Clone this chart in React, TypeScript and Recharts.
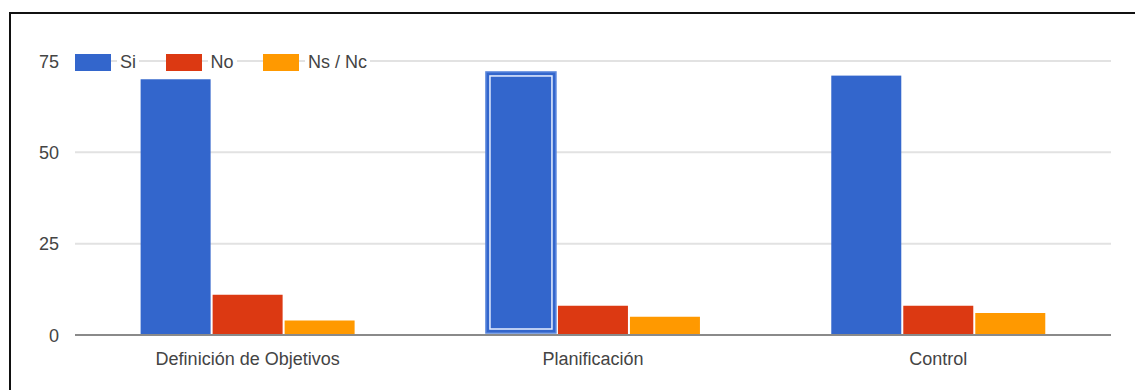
import React from 'react'
import { BarChart, Bar, XAxis, YAxis, CartesianGrid } from 'recharts'

const categories = ['Definición de Objetivos', 'Planificación', 'Control']
const si = [70, 72, 71]
const no = [11, 8, 8]
const nsNc = [4, 5, 6]
const yTicks = [0, 25, 50, 75]

const series = [
  { key: 'si', name: 'Si', color: '#3366cc' },
  { key: 'no', name: 'No', color: '#dc3912' },
  { key: 'nsnc', name: 'Ns / Nc', color: '#ff9900' },
]

// the bar that shows the selection ring
const selected = 1

const data = categories.map((name, i) => ({ name, si: si[i], no: no[i], nsnc: nsNc[i] }))

const FONT = "Arial, 'Liberation Sans', sans-serif"

const CategoryTick = (props: any) => {
  const { x, y, payload } = props
  return (
    <text x={x} y={y + 28} textAnchor="middle" fill="#444" fontSize={18} fontFamily={FONT}>
      {payload.value}
    </text>
  )
}

const ValueTick = (props: any) => {
  const { x, y, payload } = props
  return (
    <text x={x - 14} y={y + 6.5} textAnchor="end" fill="#444" fontSize={18} fontFamily={FONT}>
      {payload.value}
    </text>
  )
}

const SiBar = (props: any) => {
  const { x, y, width, height, fill, index } = props
  if (index !== selected) {
    return <rect x={x} y={y} width={width} height={height} fill={fill} />
  }
  return (
    <g>
      <rect x={x} y={y} width={width} height={height - 2} fill={fill} stroke="#5a86dc" strokeWidth={1.5} />
      <rect x={x + 4} y={y + 4} width={width - 8} height={height - 10} fill="none" stroke="#e8efff" strokeWidth={1.5} />
    </g>
  )
}

const App = () => {
  return (
    <div style={{ position: 'absolute', left: 0, top: 0, width: 1135, height: 390, overflow: 'hidden', background: '#fff' }}>
      <BarChart
        width={1135}
        height={390}
        data={data}
        margin={{ top: 61, right: 24, bottom: 0, left: 0 }}
        barCategoryGap="19%"
        barGap={2}
      >
        <CartesianGrid vertical={false} stroke="#e2e2e2" strokeWidth={2} />
        <XAxis
          dataKey="name"
          height={55}
          tickSize={0}
          tickLine={false}
          axisLine={{ stroke: '#8a8a8a', strokeWidth: 2 }}
          tick={<CategoryTick />}
        />
        <YAxis
          width={75}
          domain={[0, 75]}
          ticks={yTicks}
          tickSize={0}
          tickLine={false}
          axisLine={false}
          tick={<ValueTick />}
        />
        <Bar dataKey="si" name="Si" fill="#3366cc" shape={<SiBar />} isAnimationActive={false} />
        <Bar dataKey="no" name="No" fill="#dc3912" isAnimationActive={false} />
        <Bar dataKey="nsnc" name="Ns / Nc" fill="#ff9900" isAnimationActive={false} />
      </BarChart>

      {/* legend sits on the top gridline */}
      <div style={{ position: 'absolute', left: 75, top: 54, display: 'flex', alignItems: 'center', fontFamily: FONT, fontSize: 18, color: '#444' }}>
        {series.map((s) => (
          <div key={s.key} style={{ display: 'flex', alignItems: 'center', marginRight: 26.5 }}>
            <span style={{ width: 36, height: 17, background: s.color, display: 'inline-block' }} />
            <span style={{ background: '#fff', padding: '0 3px', marginLeft: 6, lineHeight: '17px' }}>{s.name}</span>
          </div>
        ))}
      </div>

      {/* frame */}
      <div style={{ position: 'absolute', left: 9, top: 12, width: 1200, height: 500, border: '2px solid #111', pointerEvents: 'none' }} />
    </div>
  )
}

export default App
